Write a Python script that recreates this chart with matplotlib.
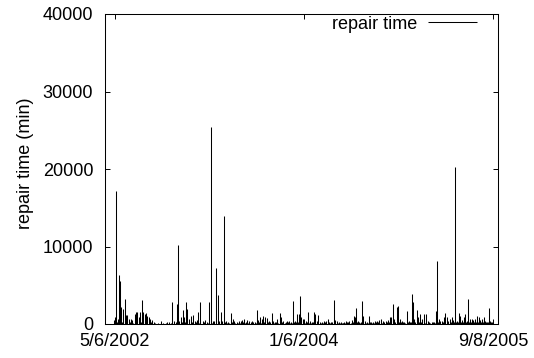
import numpy as np
import matplotlib
matplotlib.use('Agg')
from matplotlib import pyplot as plt
import matplotlib.dates as mdates

plt.rcParams['font.family'] = ['Liberation Sans', 'DejaVu Sans']
plt.rcParams['font.size'] = 13

# repair events: days after 5/6/2002 and repair time in minutes
days = [-3, 0, 4, 9, 13, 16, 20, 27, 31, 36, 40, 45, 51, 56, 64, 68, 72, 77, 81, 88,
        91, 96, 100, 104, 109, 113, 121, 131, 148, 164, 169, 174, 185, 191, 199, 203,
        208, 212, 219, 223, 230, 234, 239, 245, 253, 257, 264, 268, 274,
        283, 291, 296, 305, 310, 316, 321, 328, 332, 337, 341, 347, 352, 359, 366, 374,
        380, 385, 393, 401, 407, 411, 417, 423, 427, 434, 442, 447, 452, 459, 463, 468,
        475, 479, 485, 490, 496, 506, 511, 517, 524, 532, 536, 544, 551, 557, 563, 568,
        574, 581, 587, 594,
        598, 602, 606, 611, 617, 623, 630, 636, 644, 647, 651, 657, 662, 669, 675, 682,
        687, 692, 699, 706, 712, 716, 723, 730, 735, 741, 746, 752, 757, 766, 771, 774,
        778, 784, 789, 798, 802, 806, 813, 821, 828, 834, 841, 846, 854, 858, 865, 870,
        875, 882, 888, 892, 897, 902,
        911, 915, 921, 927, 934, 943, 949, 955, 959, 963, 967, 974, 979, 985, 992, 997,
        1003, 1010, 1015, 1024, 1030, 1037, 1041, 1046, 1051, 1056, 1062, 1067, 1071,
        1077, 1082, 1089, 1093, 1099, 1105, 1110, 1114, 1121, 1126, 1131, 1136, 1141,
        1147, 1152, 1157, 1164, 1170, 1175, 1180, 1185, 1191, 1196, 1201, 1207, 1212, 1218]

minutes = [500, 860, 17200, 650, 6300, 5550, 2150, 1900, 3200, 1200, 1100, 650, 700, 500,
           1300, 1500, 1500, 860, 1500, 3100, 1500, 1300, 1380, 1075, 860, 650, 500, 100,
           430, 100, 215, 215, 2900, 430, 2580, 10200, 430, 860, 1800, 860, 2800, 1900,
           650, 1075, 1200, 430, 500, 1500, 2800,
           430, 500, 215, 2800, 25400, 430, 430, 7270, 3800, 430, 1500, 430, 13900, 430,
           215, 1420, 650, 430, 215, 350, 430, 560, 650, 215, 520, 350, 430, 300, 215,
           1800, 520, 860, 650, 1000, 860, 775, 430, 1380, 430, 215, 650, 1420, 860, 350,
           215, 430, 350, 215, 3000, 430, 1300, 1300,
           3600, 860, 650, 215, 430, 1500, 350, 215, 1500, 1300, 430, 1200, 215, 215, 350,
           430, 650, 215, 215, 3100, 520, 430, 215, 215, 100, 215, 350, 215, 430, 520,
           1075, 860, 2060, 430, 215, 3000, 1075, 430, 215, 1075, 215, 215, 430, 350, 520,
           650, 350, 215, 430, 520, 860, 860, 2600, 650,
           2240, 2280, 650, 430, 215, 1720, 350, 215, 3870, 2800, 650, 1800, 860, 1300,
           650, 1300, 1300, 350, 215, 215, 215, 1720, 8090, 650, 430, 430, 860, 1380, 860,
           430, 650, 860, 520, 20200, 430, 1380, 1075, 520, 860, 1300, 430, 3200, 650, 650,
           520, 650, 1000, 860, 520, 650, 860, 430, 215, 2060, 430, 215]

# short repairs that make up the dense band along the bottom
small_days = [6, 24, 48, 60, 85, 117, 125, 140, 156, 180,
              196, 216, 227, 249, 261, 271, 287, 300, 313, 325,
              344, 356, 363, 370, 377, 389, 397, 404, 414, 420,
              431, 438, 445, 455, 466, 471, 482, 493, 501, 514,
              520, 528, 540, 548, 554, 560, 566, 571, 578, 584,
              590, 614, 620, 627, 633, 640, 654, 666, 672, 679,
              690, 696, 702, 709, 719, 726, 733, 738, 744, 749,
              755, 761, 769, 781, 792, 795, 810, 817, 824, 831,
              837, 844, 850, 862, 868, 879, 885, 906, 918, 924,
              930, 938, 946, 952, 970, 982, 989, 1000, 1006, 1013,
              1019, 1027, 1033, 1044, 1059, 1074, 1085, 1096, 1102, 1107,
              1117, 1124, 1134, 1139, 1144, 1150, 1155, 1161, 1167, 1173,
              1178, 1183, 1188, 1194, 1199, 1204, 1210, 1215, 1222]

small_minutes = [300, 250, 200, 150, 250, 300, 200, 80, 80, 120,
                 250, 200, 300, 250, 200, 150, 200, 120, 150, 200,
                 150, 200, 120, 150, 200, 150, 120, 180, 200, 150,
                 120, 200, 150, 120, 250, 150, 200, 300, 250, 150,
                 200, 150, 250, 120, 150, 200, 120, 150, 250, 200,
                 300, 150, 200, 120, 150, 250, 200, 120, 150, 200,
                 120, 150, 200, 120, 150, 120, 100, 150, 120, 200,
                 150, 120, 200, 250, 150, 200, 150, 120, 200, 150,
                 120, 200, 250, 150, 120, 200, 300, 250, 300, 200,
                 250, 150, 200, 300, 250, 200, 300, 150, 200, 150,
                 120, 200, 150, 250, 300, 250, 200, 300, 200, 250,
                 300, 250, 200, 300, 250, 200, 300, 250, 200, 300,
                 250, 200, 300, 250, 200, 300, 250, 200, 150]

tick_dates = ['2002-05-06', '2004-01-06', '2005-09-08']
tick_labels = ['5/6/2002', '1/6/2004', '9/8/2005']
y_ticks = [0, 10000, 20000, 30000, 40000]

start = np.datetime64('2002-05-06')
all_days = np.array(days + small_days)
all_minutes = np.array(minutes + small_minutes)
when = (start + all_days.astype('timedelta64[D]')).astype('datetime64[D]').astype(object)

fig = plt.figure(figsize=(5.34, 3.58), dpi=100)
ax = fig.add_axes([105 / 534, 1 - 324 / 358, 393 / 534, 310 / 358])

ax.vlines(when, 0, all_minutes, colors='k', linewidth=0.75, label='repair time')

ax.set_xlim(mdates.date2num(start - np.timedelta64(32, 'D')),
            mdates.date2num(start + np.timedelta64(1237, 'D')))
ax.set_ylim(0, 40000)
ax.set_xticks([mdates.date2num(np.datetime64(d)) for d in tick_dates])
ax.set_xticklabels(tick_labels)
ax.set_yticks(y_ticks)
ax.set_yticklabels([str(v) for v in y_ticks])

ax.tick_params(direction='in', top=True, right=True, length=3.3, width=0.7)
ax.tick_params(axis='x', pad=6.5)
ax.tick_params(axis='y', pad=8.5)
for s in ax.spines.values():
    s.set_linewidth(0.75)

fig.text(25 / 534, 1 - 163 / 358, 'repair time (min)', rotation=90,
         ha='center', va='center')

ax.legend(loc='upper right', bbox_to_anchor=(372 / 393, 0.995), frameon=False,
          markerfirst=False, borderpad=0, borderaxespad=0, handlelength=2.7,
          handletextpad=0.6)

fig.savefig('out.png', dpi=100)
